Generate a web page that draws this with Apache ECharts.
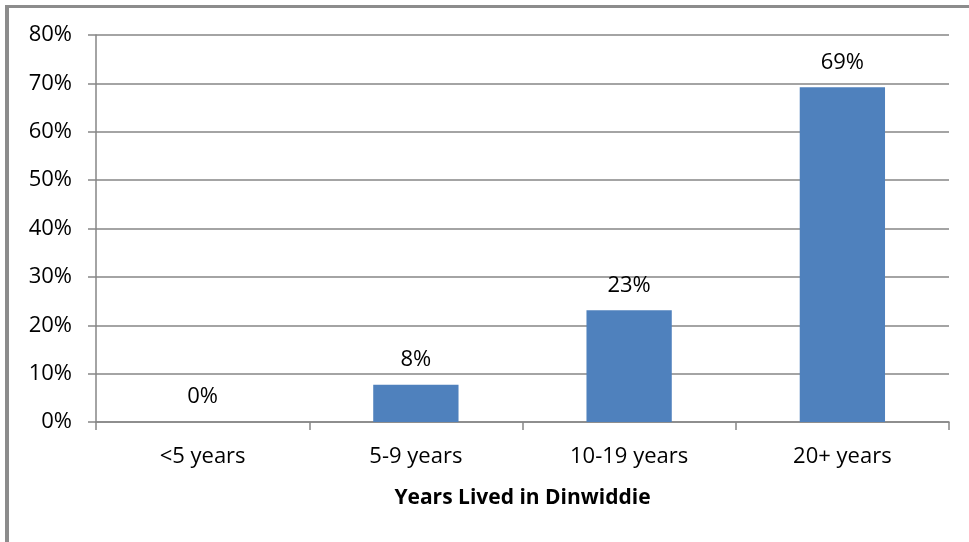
<!DOCTYPE html>
<html>
<head>
<meta charset="utf-8">
<script src="https://cdn.jsdelivr.net/npm/echarts@6/dist/echarts.min.js"></script>
<style>
  html, body { margin: 0; padding: 0; background: #fff; }
  #frame { position: absolute; left: 5px; top: 5px; width: 964px; height: 537px;
           border-left: 4px solid #8c8c8c; border-top: 3px solid #8c8c8c; box-sizing: border-box; }
  #chart { position: absolute; left: 0; top: 0; width: 969px; height: 542px; }
</style>
</head>
<body>
<div id="frame"></div>
<div id="chart"></div>
<script>
const categories = ['<5 years', '5-9 years', '10-19 years', '20+ years'];
const shares = [0, 7.7, 23.1, 69.2];
const yTicks = [0, 10, 20, 30, 40, 50, 60, 70, 80];
const axisTitle = 'Years Lived in Dinwiddie';

const font = "'Open Sans', 'Liberation Sans', sans-serif";
const chart = echarts.init(document.getElementById('chart'), null, { renderer: 'canvas' });
chart.setOption({
  animation: false,
  backgroundColor: 'transparent',
  grid: { left: 96, right: 20, top: 35, bottom: 120, containLabel: false },
  xAxis: {
    type: 'category',
    data: categories,
    name: axisTitle,
    nameLocation: 'middle',
    nameGap: 66,
    nameTextStyle: { fontFamily: font, fontSize: 21, fontWeight: 'bold', color: '#000' },
    axisLine: { lineStyle: { color: '#868686', width: 1.5 } },
    axisTick: { show: true, alignWithLabel: false, length: 8, lineStyle: { color: '#868686', width: 1.5 } },
    axisLabel: { fontFamily: font, fontSize: 22, color: '#000', margin: 24 }
  },
  yAxis: {
    type: 'value',
    min: yTicks[0],
    max: yTicks[yTicks.length - 1],
    interval: 10,
    axisLine: { show: true, lineStyle: { color: '#868686', width: 1.5 } },
    axisTick: { show: true, length: 8, lineStyle: { color: '#868686', width: 1.5 } },
    splitLine: { lineStyle: { color: '#868686', width: 1.5 } },
    axisLabel: { fontFamily: font, fontSize: 22, color: '#000', margin: 24,
                 formatter: v => v + '%' }
  },
  series: [{
    type: 'bar',
    data: shares,
    barWidth: '40%',
    itemStyle: { color: '#4F81BD' },
    label: {
      show: true,
      position: 'top',
      distance: 14,
      fontFamily: font,
      fontSize: 22,
      color: '#000',
      formatter: p => Math.round(p.value) + '%'
    }
  }]
});
</script>
</body>
</html>
